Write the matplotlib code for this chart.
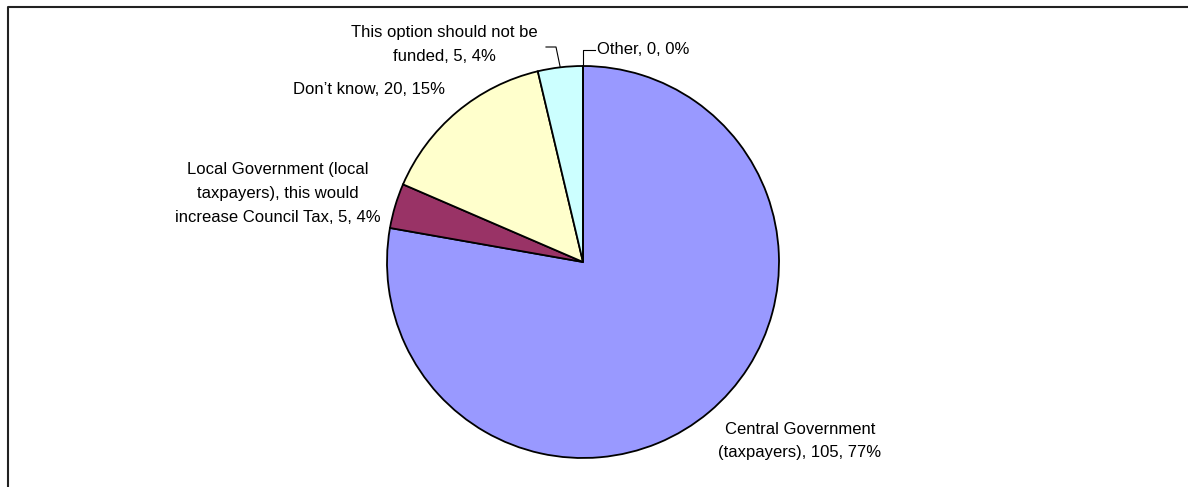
import numpy as np
import matplotlib
matplotlib.use("Agg")
import matplotlib.pyplot as plt
from matplotlib.lines import Line2D

# data
categories = ["Central Government\n(taxpayers)",
              "Local Government (local\ntaxpayers), this would\nincrease Council Tax",
              "Don\u2019t know",
              "This option should not be\nfunded",
              "Other"]
counts = [105, 5, 20, 5, 0]
percent_labels = ["77%", "4%", "15%", "4%", "0%"]
colors = ["#9999FF", "#993366", "#FFFFCC", "#CCFFFF", "#FFFFFF"]

W, H = 1188, 487
fig = plt.figure(figsize=(W / 100, H / 100), dpi=100)
plt.rcParams['font.family'] = ['Liberation Sans', 'DejaVu Sans']

# pie centre/radius in pixels
cx, cy, r = 583, 262, 196
ax = fig.add_axes([(cx - r) / W, (H - cy - r) / H, 2 * r / W, 2 * r / H])
wedges, _ = ax.pie(counts, colors=colors, startangle=90, counterclock=False,
                   wedgeprops=dict(edgecolor="black", linewidth=1.3))
ax.set_xlim(-1, 1)
ax.set_ylim(-1, 1)
ax.set_aspect("auto")
ax.axis("off")


def px(x, y):
    # pixel -> data coords
    return (x - cx) / r, (cy - y) / r


texts = [f"{c}, {n}, {p}" for c, n, p in zip(categories, counts, percent_labels)]
label_pos = [(800, 441, "center"), (278, 194, "center"), (369, 90, "center"),
             (444, 45, "center"), (597, 50, "left")]
for t, (x, y, ha) in zip(texts, label_pos):
    dx, dy = px(x, y)
    ax.text(dx, dy, t, ha=ha, va="center", fontsize=12, linespacing=1.75,
            clip_on=False)

# leader lines
def mid_point(w):
    a = np.deg2rad((w.theta1 + w.theta2) / 2)
    return np.cos(a), np.sin(a)

x0, y0 = mid_point(wedges[3])
xa, ya = px(556, 47)
xb, yb = px(546, 47)
ax.plot([x0, xa, xb], [y0, ya, yb], color="black", lw=0.8, clip_on=False)

x0, y0 = mid_point(wedges[4])
xa, ya = px(583, 50)
xb, yb = px(595, 50)
ax.plot([x0, xa, xb], [y0, ya, yb], color="black", lw=0.8, clip_on=False)

# frame (top and left edges visible)
fig.add_artist(Line2D([7.5 / W, 7.5 / W, 1.0], [0, 1 - 6.5 / H, 1 - 6.5 / H],
                      transform=fig.transFigure, color="#222222", lw=1.5))

fig.savefig("out.png", dpi=100)
